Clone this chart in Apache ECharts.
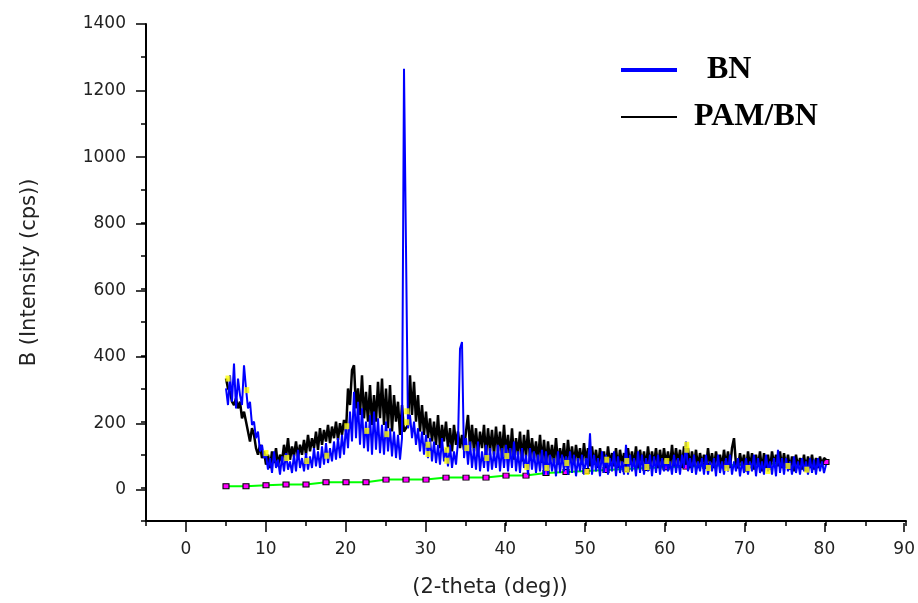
<!DOCTYPE html>
<html>
<head>
<meta charset="utf-8">
<script src="https://cdn.jsdelivr.net/npm/echarts@6/dist/echarts.min.js"></script>
<style>
  html, body { margin: 0; padding: 0; background: #fff; }
  #chart { width: 918px; height: 603px; }
</style>
</head>
<body>
<div id="chart"></div>
<script>
// sampling of the two XRD scans: 5 .. 80 deg, every 0.25 deg (20 values = 5 deg per row)
var xStart = 5;
var xStep = 0.25;

var bnValues = [
  300, 250, 340, 260, 375, 240, 330, 280, 250, 370, 300, 240, 260, 190, 200, 150, 170, 110, 130, 90,
  100, 55, 90, 45, 110, 60, 85, 40, 95, 50, 105, 55, 80, 45, 100, 50, 115, 60, 90, 50,
  105, 55, 95, 60, 120, 65, 110, 60, 125, 70, 135, 75, 120, 80, 140, 85, 150, 90, 160, 100,
  190, 120, 230, 140, 290, 150, 260, 130, 240, 120, 200, 110, 220, 100, 230, 115, 210, 105, 190, 100,
  200, 110, 180, 95, 170, 90, 160, 85, 150, 1265, 1260, 180, 220, 150, 200, 130, 180, 110, 170, 100,
  160, 90, 150, 80, 140, 75, 130, 70, 150, 80, 120, 65, 130, 60, 110, 70, 140, 420, 440, 90,
  150, 70, 140, 60, 120, 55, 140, 50, 110, 60, 130, 50, 120, 55, 110, 60, 130, 50, 120, 60,
  130, 50, 120, 60, 140, 50, 110, 45, 120, 60, 100, 40, 120, 55, 110, 45, 100, 50, 115, 40,
  110, 40, 100, 50, 90, 35, 110, 45, 100, 50, 95, 40, 110, 45, 100, 35, 90, 50, 100, 40,
  90, 60, 165, 40, 100, 50, 90, 35, 110, 45, 100, 40, 90, 50, 110, 35, 95, 45, 80, 40,
  130, 40, 100, 50, 90, 35, 110, 45, 100, 40, 90, 50, 100, 35, 95, 45, 100, 40, 90, 50,
  90, 50, 80, 40, 100, 45, 90, 40, 100, 60, 140, 50, 90, 45, 100, 40, 80, 50, 90, 40,
  100, 40, 80, 50, 90, 35, 100, 45, 80, 40, 90, 50, 100, 40, 80, 50, 90, 35, 80, 45,
  90, 40, 80, 50, 100, 35, 90, 45, 80, 40, 100, 50, 80, 40, 90, 35, 115, 45, 90, 40,
  90, 50, 80, 40, 95, 45, 80, 40, 90, 50, 80, 40, 90, 45, 85, 40, 90, 50, 80, 45,
  70
];

var pamValues = [
  330, 300, 290, 260, 250, 270, 240, 260, 210, 230, 200, 170, 140, 180, 160, 120, 100, 130, 90, 110,
  70, 100, 60, 110, 75, 120, 65, 100, 80, 130, 90, 150, 85, 125, 95, 140, 90, 130, 100, 145,
  100, 160, 110, 150, 120, 170, 115, 180, 130, 175, 140, 190, 135, 185, 150, 200, 145, 195, 160, 205,
  170, 300, 250, 355, 370, 240, 300, 220, 340, 210, 290, 200, 310, 190, 280, 200, 320, 210, 330, 190,
  300, 180, 310, 170, 280, 200, 260, 160, 250, 170, 180, 190, 340, 220, 320, 200, 280, 170, 250, 160,
  230, 150, 210, 140, 200, 130, 220, 120, 190, 140, 200, 120, 180, 110, 190, 130, 170, 120, 160, 115,
  170, 220, 120, 190, 110, 180, 100, 170, 120, 190, 95, 180, 110, 175, 100, 185, 110, 170, 95, 190,
  100, 160, 90, 180, 85, 150, 100, 170, 80, 160, 95, 175, 85, 150, 90, 140, 80, 160, 75, 145,
  70, 140, 80, 130, 75, 150, 70, 120, 80, 135, 65, 145, 75, 125, 70, 130, 80, 120, 70, 135,
  80, 120, 65, 125, 70, 115, 60, 120, 75, 110, 60, 125, 70, 105, 65, 120, 60, 115, 70, 105,
  60, 120, 70, 110, 65, 125, 60, 115, 70, 110, 60, 125, 65, 110, 70, 120, 60, 115, 65, 120,
  70, 110, 60, 130, 65, 120, 70, 115, 60, 125, 70, 120, 60, 110, 65, 115, 60, 105, 70, 100,
  60, 120, 65, 105, 60, 110, 70, 100, 60, 115, 65, 110, 60, 120, 150, 70, 60, 105, 65, 100,
  50, 110, 60, 105, 55, 100, 65, 110, 50, 105, 60, 100, 55, 110, 70, 100, 65, 110, 60, 105,
  60, 100, 55, 95, 50, 100, 60, 90, 55, 100, 50, 95, 60, 100, 55, 90, 60, 95, 65, 90,
  85
];

// background line with its square markers
var baseX = [5, 7.5, 10, 12.5, 15, 17.5, 20, 22.5, 25, 27.5, 30, 32.5, 35, 37.5, 40,
  42.5, 45, 47.5, 50, 52.5, 55, 57.5, 60, 62.5, 65, 67.5, 70, 72.5, 75, 77.5, 80];
var baseY = [5, 5, 8, 10, 10, 17, 17, 17, 25, 25, 25, 31, 31, 31, 37,
  37, 45, 48, 51, 54, 57, 60, 62, 64, 66, 68, 70, 72, 74, 76, 78];

// small yellow squares seen over the scans
var yellowX = [5.25, 7.6, 10, 12.6, 15.1, 17.6, 20.1, 22.6, 25.1, 27.6, 27.6, 30.25, 30.25,
  32.6, 32.6, 35.1, 37.6, 40.1, 42.6, 45.1, 47.6, 50.1, 52.6, 55.1, 55.1, 57.6, 60.1,
  62.6, 62.6, 65.3, 67.6, 70.25, 72.75, 75.25, 77.6];
var yellowY = [330, 295, 105, 90, 81, 97, 186, 172, 162, 231, 198, 130, 102,
  115, 82, 120, 90, 96, 63, 60, 75, 48, 85, 81, 55, 63, 81,
  115, 130, 60, 60, 60, 51, 66, 55];

var legendNames = ["BN", "PAM/BN"];

function toPairs(values) {
  return values.map(function (v, i) { return [xStart + i * xStep, v]; });
}
function zip(xs, ys) {
  return xs.map(function (x, i) { return [x, ys[i]]; });
}
function plain(v) {
  return String(v);
}

var labelFont = { fontFamily: "DejaVu Sans", fontSize: 17, color: "#222", formatter: plain };
var black = { color: "#000", width: 2 };

var chart = echarts.init(document.getElementById("chart"));
chart.setOption({
  animation: false,
  grid: [
    { left: 146, right: 12, top: 24, bottom: 80 },
    { left: 186, right: 12, top: 24, bottom: 80 },
    { left: 146, right: 12, top: 24, bottom: 113 }
  ],
  legend: {
    orient: "vertical",
    left: 614,
    top: 49,
    itemWidth: 56,
    itemHeight: 14,
    itemGap: 15,
    data: [
      { name: legendNames[0], itemStyle: { opacity: 0 },
        lineStyle: { color: "#0000ff", width: 4, opacity: 1 },
        textStyle: { padding: [0, 0, 0, 25] } },
      { name: legendNames[1], itemStyle: { opacity: 0 },
        lineStyle: { color: "#000", width: 2, opacity: 1 },
        textStyle: { padding: [0, 0, 0, 12] } }
    ],
    textStyle: { fontFamily: "Liberation Serif", fontWeight: "bold", fontSize: 32, color: "#000" }
  },
  xAxis: [
    {
      gridIndex: 0, type: "value", min: -5, max: 90, interval: 5,
      axisLine: { show: true, onZero: false, lineStyle: black },
      axisTick: { show: true, length: 5, lineStyle: { color: "#000", width: 1.5 } },
      axisLabel: { show: false },
      splitLine: { show: false },
      name: "(2-theta (deg))", nameLocation: "middle", nameGap: 56,
      nameTextStyle: { fontFamily: "DejaVu Sans", fontSize: 21, color: "#222", padding: [0, 72, 0, 0] }
    },
    {
      gridIndex: 1, type: "value", min: 0, max: 90, interval: 10,
      axisLine: { show: false },
      axisTick: { show: true, length: 9, lineStyle: { color: "#000", width: 1.5 } },
      axisLabel: Object.assign({ margin: 18 }, labelFont),
      splitLine: { show: false }
    },
    { gridIndex: 2, type: "value", min: 0, max: 1, show: false }
  ],
  yAxis: [
    {
      gridIndex: 0, type: "value", min: -100, max: 1400, interval: 100,
      axisLine: { show: true, onZero: false, lineStyle: black },
      axisTick: { show: true, length: 5, lineStyle: { color: "#000", width: 1.5 } },
      axisLabel: { show: false },
      splitLine: { show: false },
      name: "B (Intensity (cps))", nameLocation: "middle", nameGap: 106,
      nameTextStyle: { fontFamily: "DejaVu Sans", fontSize: 21, color: "#222" }
    },
    { gridIndex: 1, type: "value", min: 0, max: 1, show: false },
    {
      gridIndex: 2, type: "value", min: 0, max: 1400, interval: 200,
      axisLine: { show: false },
      axisTick: { show: true, length: 10, lineStyle: { color: "#000", width: 1.5 } },
      axisLabel: Object.assign({ margin: 20 }, labelFont),
      splitLine: { show: false }
    }
  ],
  series: [
    {
      name: "base", type: "line", data: zip(baseX, baseY),
      symbol: "rect", symbolSize: [6, 5], showSymbol: true,
      lineStyle: { color: "#00ff00", width: 2 },
      itemStyle: { color: "#ff00ff", borderColor: "#000", borderWidth: 1 },
      z: 1
    },
    {
      name: legendNames[1], type: "line", data: toPairs(pamValues),
      symbol: "none", lineStyle: { color: "#000", width: 2.5 },
      itemStyle: { color: "#000" }, z: 2
    },
    {
      name: legendNames[0], type: "line", data: toPairs(bnValues),
      symbol: "none", lineStyle: { color: "#0000ff", width: 2 },
      itemStyle: { color: "#0000ff" }, z: 3
    },
    {
      name: "marks", type: "scatter", data: zip(yellowX, yellowY),
      symbol: "rect", symbolSize: [5, 6],
      itemStyle: { color: "#ffff00" }, z: 4
    }
  ]
});
</script>
</body>
</html>
